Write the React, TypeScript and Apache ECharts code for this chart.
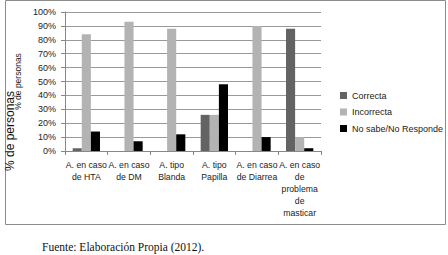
import React, { useEffect, useRef } from "react";
import * as echarts from "echarts";

const categories = [
  "A. en caso\nde HTA",
  "A. en caso\nde DM",
  "A. tipo\nBlanda",
  "A. tipo\nPapilla",
  "A. en caso\nde Diarrea",
  "A. en caso\nde\nproblema\nde\nmasticar",
];
const correcta = [2, 0, 0, 26, 0, 88];
const incorrecta = [84, 93, 88, 26, 90, 10];
const noSabe = [14, 7, 12, 48, 10, 2];
const seriesNames = ["Correcta", "Incorrecta", "No sabe/No Responde"];
const seriesColors = ["#636363", "#b3b3b3", "#000000"];
const yTicks = { min: 0, max: 100, interval: 10 };

const FONT = "Liberation Sans";

export default function App() {
  const ref = useRef<HTMLDivElement>(null);
  useEffect(() => {
    const chart = echarts.init(ref.current!, undefined, { renderer: "svg" });
    const values = [correcta, incorrecta, noSabe];
    chart.setOption({
      animation: false,
      backgroundColor: "#ffffff",
      textStyle: { fontFamily: FONT },
      grid: { left: 65, right: 127, top: 12, bottom: 104 },
      legend: {
        orient: "vertical",
        left: 335,
        top: 86,
        itemWidth: 7,
        itemHeight: 7,
        itemGap: 7.5,
        icon: "rect",
        textStyle: { fontSize: 9, color: "#222", fontFamily: FONT },
        data: seriesNames,
      },
      xAxis: {
        type: "category",
        data: categories,
        axisLine: { lineStyle: { color: "#888" } },
        axisTick: { show: true, length: 4, lineStyle: { color: "#888" } },
        axisLabel: {
          interval: 0,
          fontSize: 8.7,
          color: "#222",
          lineHeight: 12,
          margin: 8,
          fontFamily: FONT,
        },
      },
      yAxis: {
        type: "value",
        min: yTicks.min,
        max: yTicks.max,
        interval: yTicks.interval,
        name: "% de personas",
        nameLocation: "middle",
        nameGap: 37,
        nameTextStyle: { fontSize: 8.5, color: "#222", fontFamily: FONT },
        axisLine: { show: true, lineStyle: { color: "#888" } },
        axisTick: { show: true, length: 4, lineStyle: { color: "#888" } },
        axisLabel: {
          formatter: "{value}%",
          fontSize: 9,
          color: "#222",
          margin: 9,
          fontFamily: FONT,
        },
        splitLine: { lineStyle: { color: "#999", width: 1 } },
      },
      series: seriesNames.map((name, i) => ({
        name,
        type: "bar",
        data: values[i],
        itemStyle: { color: seriesColors[i] },
        barGap: "0%",
        barCategoryGap: "36%",
      })),
      graphic: [
        {
          type: "rect",
          shape: { x: 5.5, y: 0.5, width: 440, height: 224 },
          style: { fill: "none", stroke: "#8c8c8c", lineWidth: 1 },
          silent: true,
        },
        {
          type: "text",
          left: 4,
          top: 91,
          rotation: Math.PI / 2,
          style: {
            text: "% de personas",
            fontSize: 12,
            fill: "#111",
            fontFamily: FONT,
          },
        },
        {
          type: "text",
          left: 42,
          top: 241,
          style: {
            text: "Fuente: Elaboración Propia (2012).",
            fontSize: 11.5,
            fill: "#111",
            fontFamily: "Liberation Serif",
          },
        },
      ],
    });
    return () => chart.dispose();
  }, []);
  return (
    <div
      ref={ref}
      style={{ position: "fixed", left: 0, top: 0, width: 448, height: 255 }}
    />
  );
}
